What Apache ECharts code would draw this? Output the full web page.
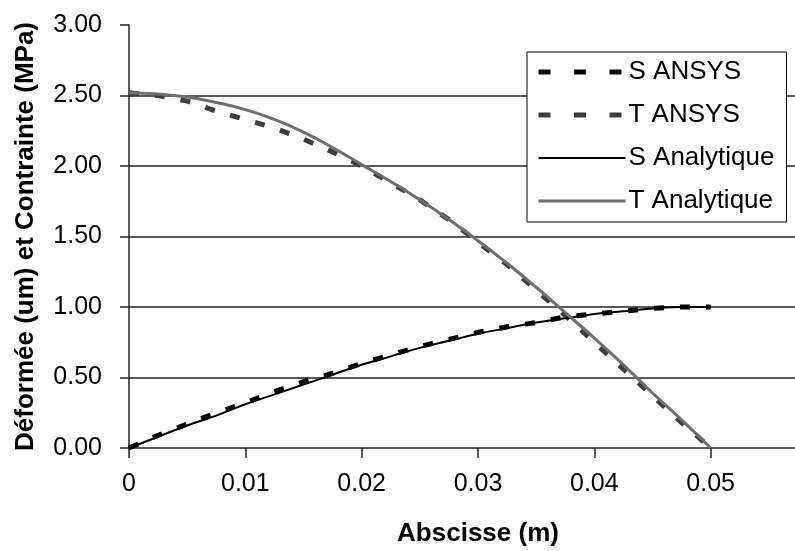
<!DOCTYPE html>
<html>
<head>
<meta charset="utf-8">
<script src="https://cdn.jsdelivr.net/npm/echarts@6/dist/echarts.min.js"></script>
<style>html,body{margin:0;padding:0;background:#fff}#c{width:795px;height:551px}</style>
</head>
<body>
<div id="c"></div>
<script>
const xValues = [0, 0.0025, 0.005, 0.0075, 0.01, 0.0125, 0.015, 0.0175, 0.02, 0.0225, 0.025, 0.0275, 0.03, 0.0325, 0.035, 0.0375, 0.04, 0.0425, 0.045, 0.0475, 0.05];
const sAnsys = [0, 0.09, 0.17, 0.25, 0.32, 0.40, 0.47, 0.53, 0.60, 0.66, 0.72, 0.77, 0.82, 0.86, 0.89, 0.93, 0.95, 0.97, 0.99, 1.00, 1.00];
const tAnsys = [2.52, 2.50, 2.46, 2.39, 2.33, 2.27, 2.19, 2.10, 2.00, 1.88, 1.76, 1.62, 1.46, 1.30, 1.12, 0.94, 0.75, 0.56, 0.37, 0.18, 0.00];
const sAnalytique = [0, 0.08, 0.16, 0.23, 0.31, 0.38, 0.45, 0.52, 0.59, 0.65, 0.71, 0.76, 0.81, 0.85, 0.89, 0.92, 0.95, 0.97, 0.99, 1.00, 1.00];
const tAnalytique = [2.52, 2.51, 2.49, 2.45, 2.40, 2.33, 2.24, 2.13, 2.01, 1.89, 1.76, 1.62, 1.47, 1.31, 1.14, 0.96, 0.78, 0.59, 0.39, 0.20, 0.00];
const seriesNames = ['S ANSYS', 'T ANSYS', 'S Analytique', 'T Analytique'];
const xTitle = 'Abscisse (m)';
const yTitle = 'Déformée (um) et Contrainte (MPa)';

const pairs = arr => xValues.map((x, i) => [x, arr[i]]);
const font = '"Liberation Sans", Arial, sans-serif';
const dashStyle = [10, 16];

const chart = echarts.init(document.getElementById('c'), null, {renderer: 'canvas'});
chart.setOption({
  animation: false,
  backgroundColor: '#fff',
  grid: {left: 129, top: 25, width: 698, bottom: 103, containLabel: false, outerBoundsMode: 'none'},
  legend: {
    orient: 'vertical', left: 527, top: 52,
    backgroundColor: '#fff', borderColor: '#000', borderWidth: 1,
    padding: [7, 12, 8, 9],
    itemWidth: 87, itemHeight: 16, itemGap: 17,
    selectedMode: false,
    itemStyle: {opacity: 0},
    textStyle: {fontFamily: font, fontSize: 26, color: '#000', lineHeight: 26, padding: [0, 0, 0, -2]},
    data: [
      {name: seriesNames[0], lineStyle: {color: '#000', width: 5, type: [12, 23.5]}},
      {name: seriesNames[1], lineStyle: {color: '#3c3c3c', width: 5, type: [12, 23.5]}},
      {name: seriesNames[2], lineStyle: {color: '#000', width: 2, type: 'solid'}},
      {name: seriesNames[3], lineStyle: {color: '#6e6e6e', width: 3, type: 'solid'}}
    ]
  },
  xAxis: {
    type: 'value', min: 0, max: 0.06, interval: 0.01,
    name: xTitle, nameLocation: 'middle', nameGap: 73,
    nameTextStyle: {fontFamily: font, fontSize: 26, fontWeight: 'bold', color: '#000'},
    axisLine: {onZero: false, lineStyle: {color: '#222', width: 1.5}},
    axisTick: {show: true, inside: false, length: 10, lineStyle: {color: '#222', width: 1.5}},
    axisLabel: {fontFamily: font, fontSize: 25, color: '#000', margin: 24, showMaxLabel: false,
      formatter: v => v === 0 ? '0' : v.toFixed(2)},
    splitLine: {show: false}
  },
  yAxis: {
    type: 'value', min: 0, max: 3, interval: 0.5,
    name: yTitle, nameLocation: 'middle', nameGap: 90, nameRotate: 90,
    nameTextStyle: {fontFamily: font, fontSize: 26, fontWeight: 'bold', color: '#000'},
    axisLine: {show: true, lineStyle: {color: '#222', width: 1.5}},
    axisTick: {show: true, inside: false, length: 9, lineStyle: {color: '#222', width: 1.5}},
    axisLabel: {fontFamily: font, fontSize: 25, color: '#000', margin: 27,
      formatter: v => v.toFixed(2)},
    splitLine: {show: true, showMinLine: false, showMaxLine: false, lineStyle: {color: '#222', width: 1.5}}
  },
  series: [
    {name: seriesNames[0], type: 'line', data: pairs(sAnsys), symbol: 'none', color: '#000',
      lineStyle: {color: '#000', width: 5, type: dashStyle}, emphasis: {disabled: true}},
    {name: seriesNames[1], type: 'line', data: pairs(tAnsys), symbol: 'none', color: '#3c3c3c',
      lineStyle: {color: '#3c3c3c', width: 5, type: dashStyle}, emphasis: {disabled: true}},
    {name: seriesNames[2], type: 'line', data: pairs(sAnalytique), symbol: 'none', smooth: true, color: '#000',
      lineStyle: {color: '#000', width: 2}, emphasis: {disabled: true}},
    {name: seriesNames[3], type: 'line', data: pairs(tAnalytique), symbol: 'none', smooth: true, color: '#6e6e6e',
      lineStyle: {color: '#6e6e6e', width: 3}, emphasis: {disabled: true}}
  ]
});
</script>
</body>
</html>
